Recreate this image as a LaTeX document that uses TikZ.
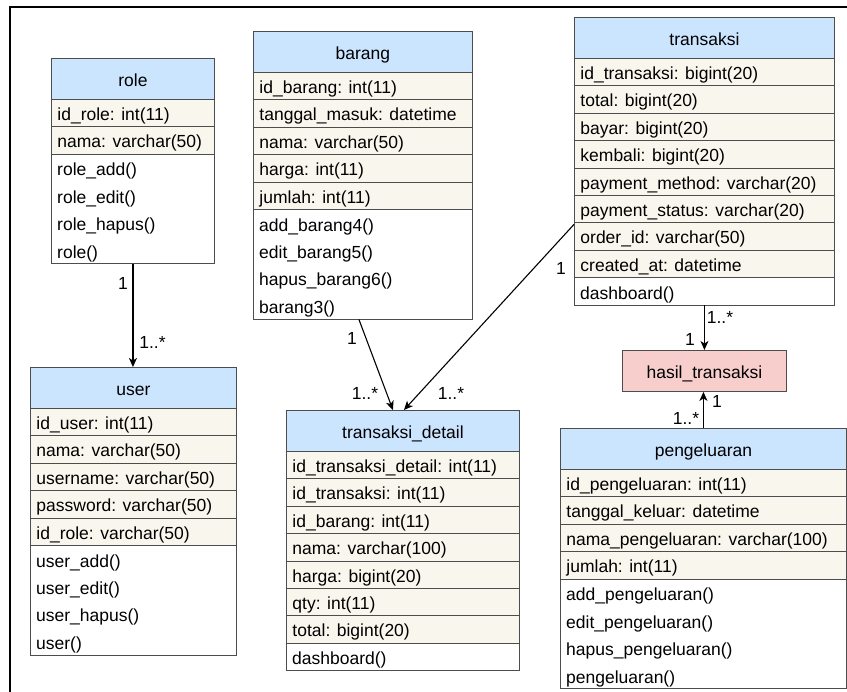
\documentclass[tikz,border=0pt]{standalone}
\usepackage{fontspec}
\setmainfont{Liberation Sans}
\usetikzlibrary{arrows.meta}

\definecolor{headblue}{HTML}{CCE5FF}
\definecolor{rowcream}{HTML}{F9F7ED}
\definecolor{hasilpink}{HTML}{F8CECC}
\definecolor{boxline}{HTML}{4D4D4D}

\tikzset{
  every node/.style={font=\fontsize{17.5}{21}\selectfont},
  head/.style={draw=boxline, line width=0.9pt, fill=headblue, anchor=north west,
    inner sep=0pt, minimum height=41, text height=16pt, text depth=0pt},
  attr/.style={draw=boxline, line width=0.9pt, fill=rowcream, anchor=north west,
    inner sep=0pt, minimum height=27.4, text height=16pt, text depth=1.4pt},
  meth/.style={anchor=north west, inner sep=0pt, minimum height=27.4,
    text height=17pt, text depth=0.4pt},
  methbox/.style={draw=boxline, line width=0.9pt, anchor=north west, inner sep=0pt},
  conn/.style={line width=1.1pt, -{Stealth[length=9pt,width=8pt,inset=2.5pt]}},
  lbl/.style={inner sep=0pt},
}

% class box: name, left, top, width, title, attributes, methods
\newcommand{\umlclass}[7]{%
  \node[head, minimum width=#4] (#1) at (#2,#3) {#5};
  \foreach \att [count=\i] in {#6} {
    \node[attr, minimum width=#4] (#1-\i) at (#2,#3+41+27.4*\i-27.4)
      {\makebox[#4pt][l]{\hspace{6pt}\ignorespaces\att}};
    \xdef\nattr{\i}
  }
  \foreach \mth [count=\j] in {#7} {
    \node[meth] (#1-m\j) at (#2,#3+41+27.4*\nattr+27.4*\j-27.4)
      {\makebox[#4pt][l]{\hspace{6pt}\ignorespaces\mth}};
    \xdef\nmeth{\j}
  }
  \node[methbox, minimum width=#4, minimum height=27.4*\nmeth] (#1-m) at (#2,#3+41+27.4*\nattr) {};
}

\begin{document}
\begin{tikzpicture}[x=1pt, y=-1pt]
\path[use as bounding box, fill=white] (0,0) rectangle (847,692);
\draw[line width=1.2pt] (10,692) -- (10,7) -- (847,7);  % frame

\umlclass{role}{51}{58}{163}{role}
  {id\_role: int(11), nama: varchar(50)}
  {role\_add(), role\_edit(), role\_hapus(), role()}
\umlclass{barang}{253}{31}{219}{barang}
  {id\_barang: int(11), tanggal\_masuk: datetime, nama: varchar(50), harga: int(11), jumlah: int(11)}
  {add\_barang4(), edit\_barang5(), hapus\_barang6(), barang3()}
\umlclass{transaksi}{574}{17}{260}{transaksi}
  {id\_transaksi: bigint(20), total: bigint(20), bayar: bigint(20), kembali: bigint(20),
   payment\_method: varchar(20), payment\_status: varchar(20), order\_id: varchar(50), created\_at: datetime}
  {dashboard()}
\umlclass{user}{30}{367}{206}{user}
  {id\_user: int(11), nama: varchar(50), username: varchar(50), password: varchar(50), id\_role: varchar(50)}
  {user\_add(), user\_edit(), user\_hapus(), user()}
\umlclass{td}{286}{410}{233}{transaksi\_detail}
  {id\_transaksi\_detail: int(11), id\_transaksi: int(11), id\_barang: int(11), nama: varchar(100),
   harga: bigint(20), qty: int(11), total: bigint(20)}
  {dashboard()}
\umlclass{peng}{560}{428}{286}{pengeluaran}
  {id\_pengeluaran: int(11), tanggal\_keluar: datetime, nama\_pengeluaran: varchar(100), jumlah: int(11)}
  {add\_pengeluaran(), edit\_pengeluaran(), hapus\_pengeluaran(), pengeluaran()}

\node[head, fill=hasilpink, minimum width=164] (hasil) at (622,350) {hasil\_transaksi};

% relations
\draw[conn] (role-m.south) -- (role-m.south |- user.north);
\draw[conn] ([xshift=-4pt]barang-m.south) -- ([xshift=-10pt]td.north);
\draw[conn] ([yshift=-2pt]transaksi-7.north west) -- ([xshift=1pt]td.north);
\draw[conn] (transaksi-m.south) -- (hasil.north);
\draw[conn] (peng.north) -- (peng.north |- hasil.south);

% multiplicities
\node[lbl] (m1) at (123,283) {1};
\node[lbl] (m2) at (152.5,342) {1..*};
\node[lbl] (m3) at (352,338) {1};
\node[lbl] (m4) at (365,393) {1..*};
\node[lbl] (m5) at (451,393) {1..*};
\node[lbl] (m6) at (561,268) {1};
\node[lbl] (m7) at (720,317) {1..*};
\node[lbl] (m8) at (690,339) {1};
\node[lbl] (m9) at (717,401) {1};
\node[lbl] (m10) at (686,418) {1..*};
\end{tikzpicture}
\end{document}
